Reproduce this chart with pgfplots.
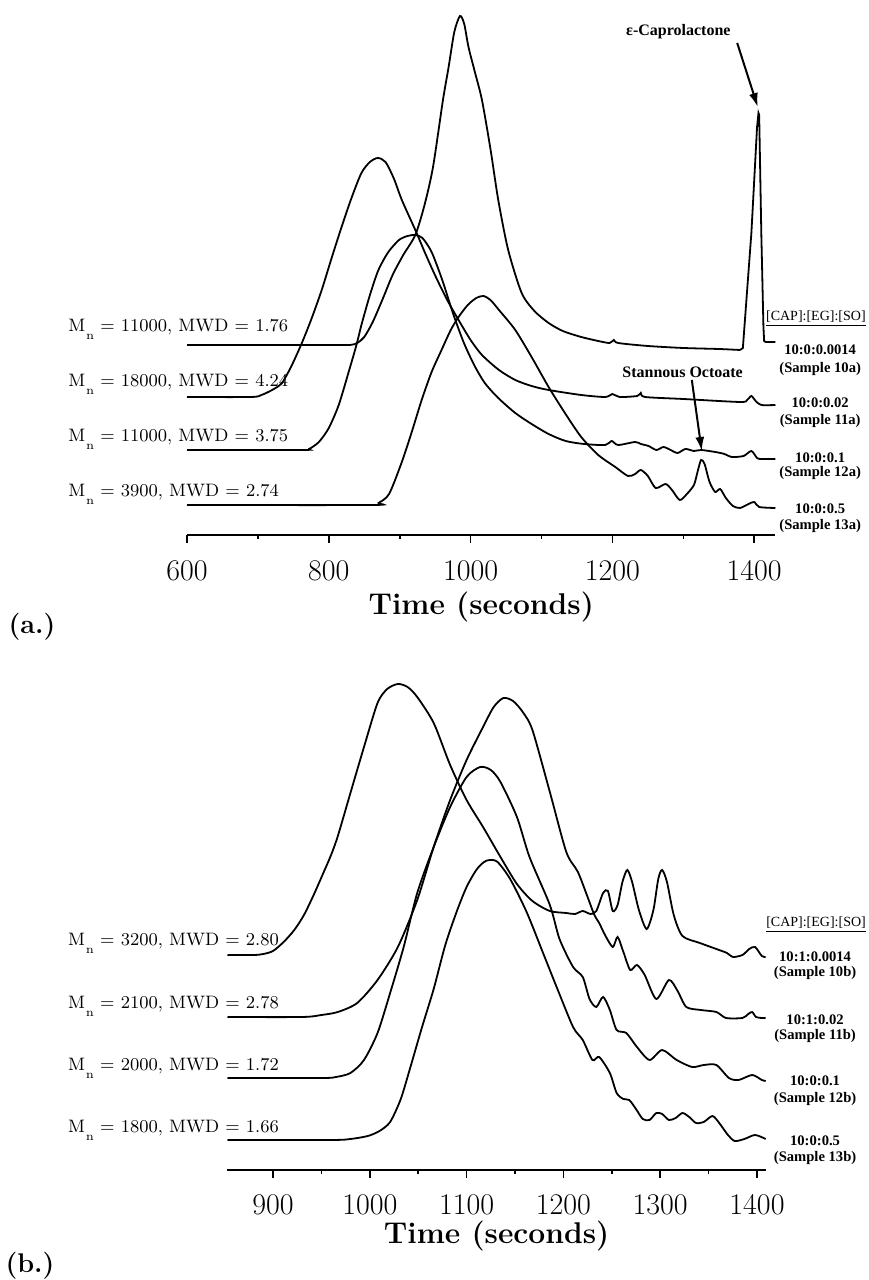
\documentclass[border=0pt]{standalone}
\usepackage{fontspec}
\usepackage{pgfplots}
\pgfplotsset{compat=1.18}
\usetikzlibrary{arrows.meta}
\newfontfamily\tnr{Liberation Serif}
\newcommand\Mn{M\kern0.4pt\raisebox{-3.6pt}{\fontsize{6}{7}\selectfont n}}
\newcommand\lfont{\fontsize{9}{10}\selectfont}
\newcommand\rfont{\tnr\bfseries\fontsize{7.3}{8}\selectfont}
\tikzset{lab/.style={anchor=base west, inner sep=0pt, font=\lfont}}
\pgfplotsset{
  crv/.style={black, line width=0.9pt, smooth, tension=0.45, mark=none},
  spk/.style={black, line width=0.9pt, mark=none},
  chrom/.style={
    anchor=south west,
    axis x line*=bottom, axis y line=none, clip=false, enlargelimits=false,
    y=0.5pt, ymax=527,
    tick align=outside, major tick length=4pt, minor tick length=2pt,
    every tick/.append style={line width=0.8pt, black},
    axis line style={line width=1.1pt, black},
    xticklabel style={anchor=center, font=\fontsize{15}{16}\selectfont},
    xlabel style={font=\bfseries\fontsize{15}{17}\selectfont, anchor=center, at={(axis description cs:0.5,0)}},
  },
}
\begin{document}
\begin{tikzpicture}
\useasboundingbox (0,0) rectangle (434pt,640pt);
% ---------------- panel (a) ----------------
\begin{axis}[chrom, at={(93.5pt,372.5pt)}, x=0.3545pt, xmin=600, xmax=1430, ymin=-8,
  xtick={600,800,1000,1200,1400}, xticklabels={600,800,1000,1200,1400},
  minor xtick={700,900,1100,1300},
  xticklabel style={yshift=-14pt},
  xlabel={Time (seconds)}, xlabel style={yshift=-36pt}]
% 10a
\addplot[crv] coordinates {
(600,182) (700,182) (800,182) (830,182) (840,184) (850,190) (862,205) (876,228) (890,252) (905,272) (922,292) (935,322) (947,360) (961,427) (969,460) (977,495) (985,511) (991,503) (997,480) (1006,455) (1016,427) (1028,378) (1039,327) (1053,277) (1072,234) (1090,216) (1110,204) (1130,196) (1156,190) (1180,186) (1196,184) (1202,187) (1208,184) (1250,181) (1300,179) (1350,178) (1380,177)};
\addplot[spk] coordinates {
(1380,177) (1384,179) (1389,227) (1396,294) (1401,360) (1404,400) (1406,414) (1407,412) (1410,294) (1413,200) (1414,186) (1416,185) (1430,185)};
% 11a
\addplot[crv] coordinates {
(600,130) (690,130) (705,132) (720,137) (734,144) (748,162) (762,184) (776,209) (790,237) (804,269) (818,300) (832,329) (846,354) (858,365) (869,369) (880,365) (892,348) (903,327) (922,297) (937,272) (951,250) (967,227) (983,207) (1000,187) (1016,172) (1040,157) (1063,147) (1086,141) (1110,137) (1156,132) (1190,130) (1200,133) (1210,130) (1235,131) (1240,134) (1246,130) (1300,128) (1380,125) (1390,127) (1396,131) (1402,126) (1410,122) (1430,122)};
% 12a
\addplot[crv] coordinates {
(600,77) (760,77) (772,78) (786,85) (800,99) (814,122) (828,155) (839,182) (846,202) (858,232) (870,257) (884,275) (899,287) (911,291) (922,292) (932,289) (945,275) (960,247) (975,214) (990,185) (1005,162) (1020,144) (1039,129) (1063,114) (1086,103) (1110,93) (1134,86) (1160,83) (1190,82) (1199,86) (1208,82) (1232,85) (1240,83) (1251,81) (1262,77) (1272,80) (1282,77) (1292,74) (1303,78) (1315,76) (1325,77) (1345,75) (1358,73) (1368,70) (1385,71) (1396,76) (1404,69) (1410,68) (1430,68)};
% 13a
\addplot[crv] coordinates {
(600,22) (860,22) (870,24) (885,33) (903,65) (917,95) (931,127) (945,155) (959,177) (972,197) (983,210) (996,222) (1008,229) (1018,231) (1028,227) (1040,217) (1063,197) (1086,170) (1110,140) (1133,114) (1156,90) (1180,72) (1204,60) (1222,51) (1232,53) (1240,57) (1250,51) (1261,39) (1275,43) (1284,37) (1295,27) (1305,33) (1315,42) (1320,55) (1325,67) (1330,63) (1337,45) (1345,35) (1352,38) (1360,29) (1370,21) (1380,19) (1392,23) (1400,25) (1407,20) (1430,19)};
% left labels
\node[lab] at (axis cs:432,195) {\Mn{} = 11000, MWD = 1.76};
\node[lab] at (axis cs:432,140) {\Mn{} = 18000, MWD = 4.24};
\node[lab] at (axis cs:432,85) {\Mn{} = 11000, MWD = 3.75};
\node[lab] at (axis cs:432,30) {\Mn{} = 3900, MWD = 2.74};
% right labels
\node[font=\tnr\fontsize{7}{8}\selectfont] at (axis cs:1487,208) {\underline{[CAP]:[EG]:[SO]}};
\node[font=\rfont] at (axis cs:1493,177) {10:0:0.0014};
\node[font=\rfont] at (axis cs:1493,158) {(Sample 10a)};
\node[font=\rfont] at (axis cs:1493,124) {10:0:0.02};
\node[font=\rfont] at (axis cs:1493,106) {(Sample 11a)};
\node[font=\rfont] at (axis cs:1493,69) {10:0:0.1};
\node[font=\rfont] at (axis cs:1493,54) {(Sample 12a)};
\node[font=\rfont] at (axis cs:1493,18) {10:0:0.5};
\node[font=\rfont] at (axis cs:1493,1) {(Sample 13a)};
% annotations
\node[font=\tnr\bfseries\fontsize{8}{9}\selectfont] at (axis cs:1293,495) {ε-Caprolactone};
\draw[line width=1pt, -{Latex[length=7pt,width=4.5pt]}] (axis cs:1376,484) -- (axis cs:1405,420);
\node[font=\tnr\bfseries\fontsize{8}{9}\selectfont] at (axis cs:1299,155) {Stannous Octoate};
\draw[line width=1pt, -{Latex[length=7pt,width=4.5pt]}] (axis cs:1312,147) -- (axis cs:1326,76);
\end{axis}
% ---------------- panel (b) ----------------
\begin{axis}[chrom, at={(113.75pt,55pt)}, x=0.484pt, xmin=853, xmax=1409, ymin=-3,
  xtick={900,1000,1100,1200,1300,1400}, xticklabels={900,1000,1100,1200,1300,1400},
  minor xtick={950,1050,1150,1250,1350},
  xticklabel style={yshift=-13.5pt},
  xlabel={Time (seconds)}, xlabel style={yshift=-33pt}]
% 10b
\addplot[crv] coordinates {
(853,212) (880,212) (890,213) (900,216) (911,225) (922,237) (932,252) (942,272) (952,294) (960,312) (967,331) (980,374) (994,420) (1008,464) (1018,478) (1029,483) (1039,480) (1049,470) (1066,444) (1083,402) (1100,367) (1117,340) (1135,310) (1152,283) (1168,266) (1186,256) (1203,254) (1212,253) (1220,256) (1228,253) (1234,256) (1241,274) (1246,276) (1251,256) (1256,262) (1261,285) (1266,297) (1271,285) (1278,257) (1286,238) (1293,257) (1298,288) (1302,297) (1307,285) (1314,252) (1323,231) (1341,224) (1358,218) (1369,214) (1375,210) (1385,212) (1392,218) (1398,220) (1405,211) (1409,210)};
% 11b
\addplot[crv] coordinates {
(853,150) (930,150) (950,152) (967,155) (987,164) (1008,187) (1029,220) (1049,267) (1066,320) (1083,367) (1100,407) (1117,440) (1128,460) (1138,469) (1148,466) (1158,455) (1168,437) (1186,375) (1203,315) (1215,295) (1225,270) (1232,252) (1237,244) (1243,232) (1251,220) (1256,230) (1262,215) (1269,197) (1276,202) (1284,192) (1296,168) (1309,187) (1318,176) (1327,160) (1342,157) (1358,155) (1368,149) (1385,149) (1391,153) (1395,155) (1399,150) (1405,149) (1409,149)};
% 12b
\addplot[crv] coordinates {
(853,89) (950,89) (965,90) (980,94) (994,107) (1008,134) (1021,174) (1035,220) (1049,274) (1066,320) (1083,360) (1100,390) (1114,400) (1125,397) (1135,385) (1152,350) (1165,310) (1186,262) (1196,228) (1210,200) (1220,190) (1227,168) (1234,160) (1241,170) (1248,157) (1255,137) (1265,134) (1276,120) (1289,107) (1302,117) (1317,107) (1333,100) (1345,102) (1358,102) (1371,89) (1381,87) (1395,92) (1405,87) (1409,86)};
% 13b
\addplot[crv] coordinates {
(853,27) (960,27) (980,28) (998,31) (1010,36) (1021,45) (1032,68) (1042,100) (1054,140) (1066,178) (1078,222) (1090,256) (1100,280) (1110,297) (1118,305) (1124,307) (1132,305) (1145,288) (1162,255) (1179,214) (1193,180) (1210,140) (1220,127) (1230,107) (1237,110) (1248,94) (1255,74) (1262,68) (1268,67) (1275,58) (1282,48) (1289,47) (1296,54) (1302,53) (1309,47) (1316,49) (1323,54) (1330,50) (1337,44) (1345,45) (1354,51) (1361,44) (1370,32) (1377,26) (1387,28) (1398,32) (1409,28)};
% left labels
\node[lab] at (axis cs:688,221) {\Mn{} = 3200, MWD = 2.80};
\node[lab] at (axis cs:688,158) {\Mn{} = 2100, MWD = 2.78};
\node[lab] at (axis cs:688,96) {\Mn{} = 2000, MWD = 1.72};
\node[lab] at (axis cs:688,34) {\Mn{} = 1800, MWD = 1.66};
% right labels
\node[font=\tnr\fontsize{7}{8}\selectfont] at (axis cs:1461,242) {\underline{[CAP]:[EG]:[SO]}};
\node[font=\rfont] at (axis cs:1460,210) {10:1:0.0014};
\node[font=\rfont] at (axis cs:1460,194) {(Sample 10b)};
\node[font=\rfont] at (axis cs:1460,147) {10:1:0.02};
\node[font=\rfont] at (axis cs:1460,131) {(Sample 11b)};
\node[font=\rfont] at (axis cs:1460,86) {10:0:0.1};
\node[font=\rfont] at (axis cs:1460,68) {(Sample 12b)};
\node[font=\rfont] at (axis cs:1460,26) {10:0:0.5};
\node[font=\rfont] at (axis cs:1460,9) {(Sample 13b)};
\end{axis}
\node[font=\bfseries\fontsize{13.5}{15}\selectfont] at (16pt,326.5pt) {(a.)};
\node[font=\bfseries\fontsize{13.5}{15}\selectfont] at (15pt,7pt) {(b.)};
\end{tikzpicture}
\end{document}
